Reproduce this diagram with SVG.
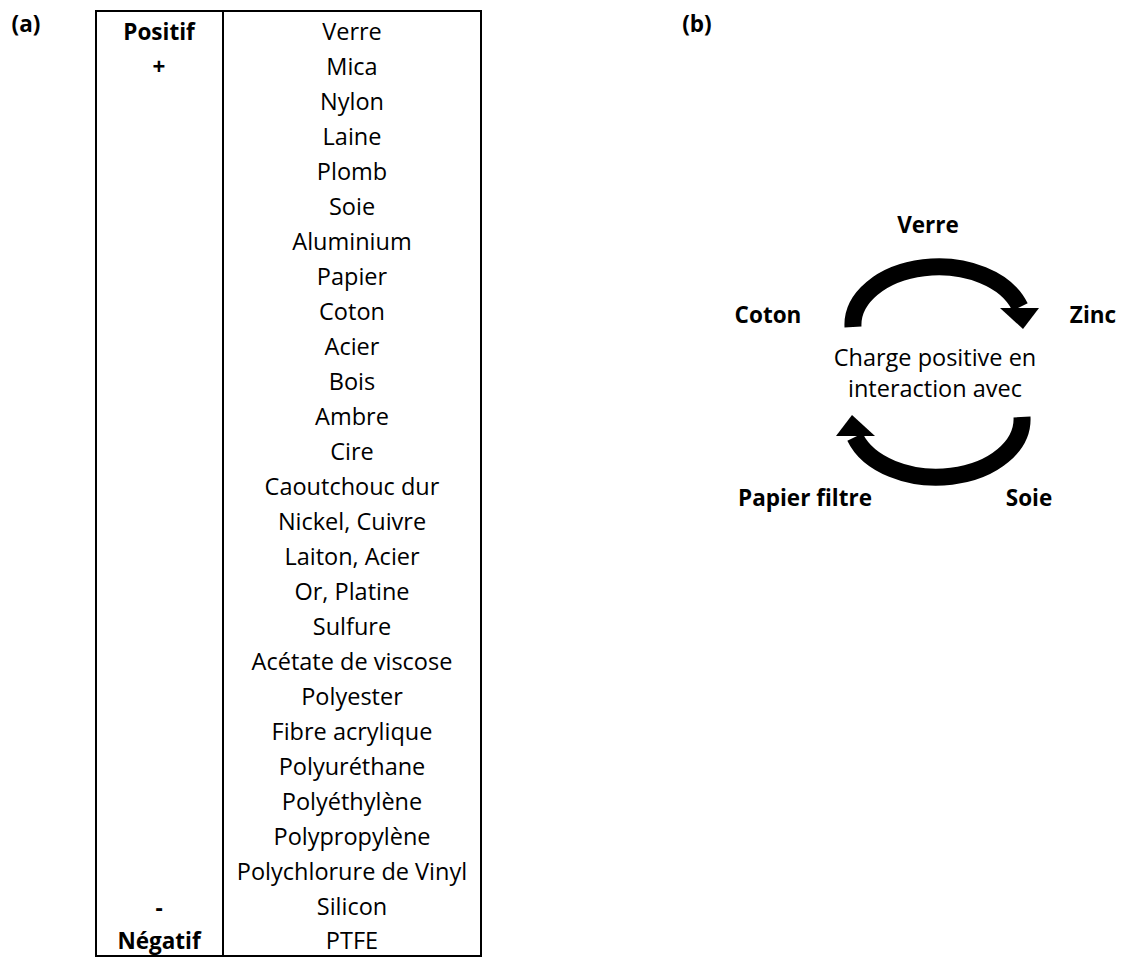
<svg xmlns="http://www.w3.org/2000/svg" width="1122" height="958" viewBox="0 0 1122 958">
<style>
text{font-family:"Open Sans","Liberation Sans",sans-serif;font-size:23.5px;fill:#000;text-anchor:middle}
.b{font-weight:bold;font-size:22.5px}
.grid{fill:none;stroke:#000;stroke-width:2}
.arc{fill:none;stroke:#000;stroke-width:17}
</style>
<defs>
<g id="curved-arrow">
<path class="arc" d="M853,327 A85.6,58 0 0 1 1020,307"/>
<polygon points="1000,308 1039,308 1023,329" fill="#000"/>
</g>
</defs>
<rect width="1122" height="958" fill="#fff"/>
<g id="label-a"><text class="b" x="26" y="32">(a)</text></g>
<g id="label-b"><text class="b" x="697" y="32">(b)</text></g>
<g id="table">
<rect class="grid" x="96" y="11" width="385" height="945"/>
<line class="grid" x1="223" y1="11" x2="223" y2="956"/>
<g id="col-left">
<text class="b" x="159" y="40">Positif</text>
<text class="b" x="159" y="75">+</text>
<text class="b" x="159" y="916">-</text>
<text class="b" x="159" y="949">Négatif</text>
</g>
<g id="col-right">
<text x="352" y="40">Verre</text>
<text x="352" y="75">Mica</text>
<text x="352" y="110">Nylon</text>
<text x="352" y="145">Laine</text>
<text x="352" y="180">Plomb</text>
<text x="352" y="215">Soie</text>
<text x="352" y="250">Aluminium</text>
<text x="352" y="285">Papier</text>
<text x="352" y="320">Coton</text>
<text x="352" y="355">Acier</text>
<text x="352" y="390">Bois</text>
<text x="352" y="425">Ambre</text>
<text x="352" y="460">Cire</text>
<text x="352" y="495">Caoutchouc dur</text>
<text x="352" y="530">Nickel, Cuivre</text>
<text x="352" y="565">Laiton, Acier</text>
<text x="352" y="600">Or, Platine</text>
<text x="352" y="635">Sulfure</text>
<text x="352" y="670">Acétate de viscose</text>
<text x="352" y="705">Polyester</text>
<text x="352" y="740">Fibre acrylique</text>
<text x="352" y="775">Polyuréthane</text>
<text x="352" y="810">Polyéthylène</text>
<text x="352" y="845">Polypropylène</text>
<text x="352" y="880">Polychlorure de Vinyl</text>
<text x="352" y="915">Silicon</text>
<text x="352" y="949">PTFE</text>
</g>
</g>
<g id="connectors">
<use id="arrow-top" href="#curved-arrow"/>
<use id="arrow-bottom" href="#curved-arrow" transform="rotate(180 937.5 372)"/>
</g>
<g id="center"><text x="935" y="366">Charge positive en</text><text x="935" y="397">interaction avec</text></g>
<g id="n-verre"><text class="b" x="928" y="233">Verre</text></g>
<g id="n-zinc"><text class="b" x="1093" y="323">Zinc</text></g>
<g id="n-coton"><text class="b" x="768" y="323">Coton</text></g>
<g id="n-papier"><text class="b" x="805" y="506">Papier filtre</text></g>
<g id="n-soie"><text class="b" x="1029" y="506">Soie</text></g>
</svg>
